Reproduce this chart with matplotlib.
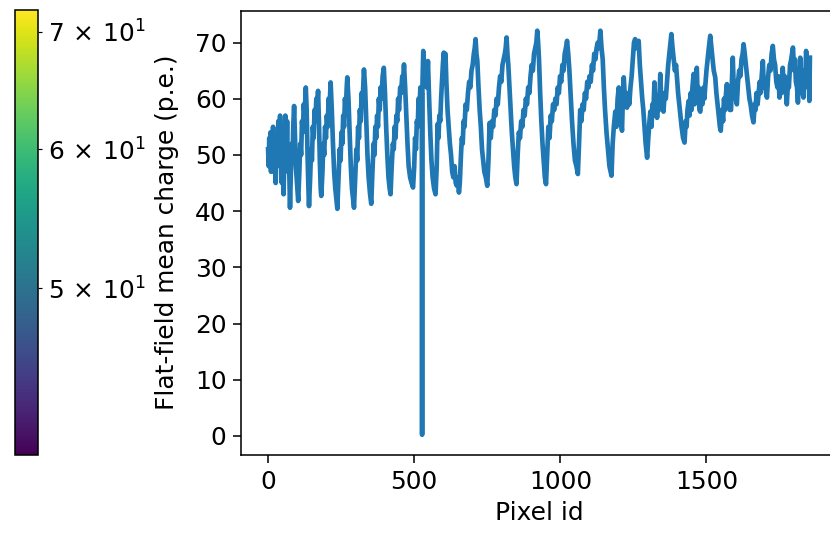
import matplotlib
matplotlib.use("Agg")
import matplotlib.pyplot as plt
from matplotlib.colors import LogNorm
from matplotlib.ticker import FuncFormatter
import matplotlib.cm as cm

# (pixel id, flat-field mean charge) vertices
pixel_id = [
    0, 2, 4, 6, 8, 10, 12, 14, 17, 20, 23, 26, 29, 32, 35, 38, 41, 44, 47, 50,
    53, 56, 59, 62, 65, 68, 71, 75, 78, 81, 84, 86, 89, 92, 95, 99, 103,
    107, 110, 113, 116, 119, 122, 125, 129, 132, 135, 138, 140,
    144, 147, 150, 153, 156, 159, 162, 165, 168, 171, 174, 177, 180, 182,
    186, 189, 192, 195, 198, 201, 204, 207, 210, 214, 218, 222, 226, 230, 234, 237,
    241, 245, 248, 251, 254, 257, 260, 263, 266, 269, 271, 275, 279, 283, 287, 291, 294,
    298, 302, 305, 308, 311, 314, 317, 320, 323, 326, 328, 332, 336, 340, 344, 349, 353,
    357, 361, 364, 367, 370, 373, 376, 379, 382, 385, 388, 392, 396, 400, 404, 408, 412, 416, 419,
    423, 427, 430, 433, 436, 439, 442, 445, 448, 452, 455, 459, 462, 465, 469, 473, 477, 481, 486, 491, 496,
    500, 503, 506, 509, 512, 515, 518, 521, 524, 526, 527, 528, 531, 534, 537, 540, 543, 547, 551, 555, 559, 563, 568, 573,
    577, 580, 583, 586, 589, 592, 595, 598, 601, 604, 607, 610, 614, 618, 622, 626, 630, 634, 638, 642, 646, 650, 653, 656,
    660, 663, 666, 669, 672, 676, 680, 684, 688, 692, 696, 700, 704, 707, 710, 713, 716, 720, 724, 728, 732, 736, 740, 745, 750,
    754, 758, 762, 766, 770, 774, 778, 782, 786, 790, 794, 798, 802, 806, 810, 813, 816, 819, 822, 826, 830, 834, 838, 842, 846, 850,
    854, 858, 862, 866, 870, 874, 878, 882, 886, 890, 894, 898, 902, 906, 910, 914, 918, 921, 924, 927, 931, 935, 939, 943, 947, 951,
    955, 959, 963, 967, 971, 975, 979, 983, 987, 991, 995, 999, 1003, 1007, 1011, 1015, 1019, 1023, 1027, 1031, 1035, 1040, 1045, 1050, 1055, 1060,
    1064, 1068, 1072, 1076, 1080, 1084, 1088, 1092, 1096, 1100, 1104, 1108, 1112, 1116, 1120, 1124, 1128, 1132, 1137, 1141, 1145, 1149, 1153, 1158, 1163, 1168, 1175,
    1179, 1183, 1188, 1192, 1196, 1200, 1204, 1208, 1211, 1214, 1217, 1221, 1225, 1228, 1232, 1236, 1240, 1244, 1248, 1252, 1256, 1260, 1264, 1268, 1272, 1276, 1280, 1284, 1288, 1292, 1297,
    1301, 1305, 1308, 1312, 1315, 1318, 1322, 1326, 1328, 1331, 1334, 1338, 1342, 1346, 1350, 1353, 1357, 1361, 1365, 1369, 1373, 1377, 1380, 1384, 1388, 1392, 1396, 1399, 1403, 1407, 1411, 1415, 1420, 1425,
    1429, 1432, 1435, 1439, 1442, 1446, 1449, 1452, 1456, 1459, 1462, 1467, 1470, 1473, 1476, 1479, 1483, 1486, 1490, 1493, 1496, 1500, 1504, 1508, 1513, 1517, 1521, 1525, 1530, 1534, 1538, 1542, 1546, 1549,
    1553, 1557, 1560, 1564, 1567, 1570, 1574, 1577, 1580, 1584, 1587, 1590, 1594, 1597, 1600, 1604, 1608, 1612, 1616, 1620, 1624, 1627, 1631, 1635, 1639, 1643, 1647, 1651, 1656, 1661,
    1665, 1668, 1671, 1675, 1678, 1682, 1685, 1689, 1693, 1696, 1700, 1704, 1707, 1711, 1715, 1719, 1723, 1727, 1731, 1735, 1739, 1743, 1746, 1750, 1754, 1757, 1761, 1765, 1768, 1772, 1775,
    1779, 1782, 1786, 1790, 1793, 1796, 1800, 1803, 1806, 1810, 1813, 1816, 1818, 1821, 1824, 1827, 1829, 1832, 1835, 1838, 1841, 1844, 1847, 1850, 1852, 1854,
]
charge = [
    51, 48, 53, 49, 54, 47, 52, 49, 55, 47, 52, 45, 53, 48, 56, 51, 57, 50, 45, 53,
    43, 51, 57, 49, 56, 47, 51, 40.6, 47, 52, 50, 55, 58.7, 53, 48, 45, 41.8,
    47, 52, 50, 56, 54, 59, 57, 62, 58, 50, 44, 40.9,
    46, 51, 49, 55, 53, 58, 56, 60, 59, 61.4, 56, 49, 44, 42.7,
    47, 52, 50, 55, 53, 57, 55, 60, 58, 62.9, 58, 52, 47, 44, 42, 40.4,
    46, 51, 49, 54, 52, 57, 55, 60, 58, 62, 63.8, 60, 54, 48, 44, 42, 40.6,
    46, 51, 49, 55, 53, 58, 56, 61, 59, 63, 65.2, 62, 56, 50, 46, 43, 41.3,
    47, 52, 50, 55, 53, 57, 55, 60, 58, 62, 60, 64, 65.5, 61, 55, 50, 46, 44, 43,
    48, 52, 51, 55, 53, 57, 56, 60, 58, 62, 61, 64, 63, 66.1, 62, 57, 52, 48, 46, 45, 44.2,
    48, 53, 51, 56, 55, 60, 58, 62, 60, 61, 0.2, 62, 68.5, 66, 64, 66, 62, 66.7, 60, 54, 49, 46, 44, 43,
    48, 55.5, 53, 57, 56, 60, 63, 66, 68.2, 67, 68, 63, 58, 55, 52, 50, 47, 46, 48, 45, 44.5, 46, 43.3, 45,
    50, 53, 52, 56, 55, 59, 58, 61, 63, 62, 65, 66, 68, 69, 70.6, 68, 66.7, 62, 58, 55, 51, 49, 47, 46, 44.5,
    49, 55.7, 53, 56, 55, 58, 57, 60, 59, 62, 64, 63, 66, 67, 68, 69, 70.9, 68, 66, 62, 58, 54, 51, 48, 46, 44.8,
    50, 54, 53, 56, 55, 58, 57, 60, 59, 62, 61, 64, 66, 65, 68, 69, 70, 72.1, 70, 67, 61, 56, 52, 49, 46, 44.8,
    50, 55, 53, 57, 56, 59, 58, 60, 59, 62, 61, 64, 63, 66, 65, 68, 69, 70.3, 68, 65, 61, 56, 52, 49, 48, 46.6,
    52, 58, 56, 59, 58, 61, 60, 63, 62, 64, 63, 66, 65, 68, 67, 69, 70, 69, 72.1, 69, 67, 62, 58, 54, 51, 48, 46.3,
    52, 55, 57.7, 55, 60, 62, 57, 56, 54.3, 60, 63.8, 60, 61, 58.4, 61, 59, 62, 64, 67, 70, 70.6, 69, 70, 70.3, 66, 63, 60.2, 58, 55, 52, 49.5,
    53, 56, 57.7, 55, 59, 57, 62.9, 58, 60, 56.6, 60, 58, 64.4, 59, 61, 57.7, 61, 60, 63, 66, 68, 70, 71.5, 69, 67, 65, 66, 63.8, 61, 59, 57, 55, 53, 52.2,
    56, 55, 58, 59.6, 57, 61, 58, 62, 64.4, 59, 63, 65.5, 60, 62, 58, 57.7, 61, 59, 62, 60, 62.3, 65, 67, 69, 71.2, 69, 67, 65, 63.8, 61, 59, 57, 55, 54.3,
    58, 56, 60, 58, 61, 62.6, 59, 61, 58, 58, 63, 67.3, 61, 63, 60, 59, 63, 65, 64, 67, 68, 69.7, 68, 66, 64, 62, 60, 59, 57, 55.8,
    59, 58, 61, 59, 60.8, 63, 61, 64, 66.7, 62, 63, 61, 60.2, 64, 66, 65, 68, 69.4, 67, 66, 63, 62, 64, 60.2, 63, 61, 65.5, 62, 64, 61, 59,
    63, 62, 66, 67, 68, 69.1, 65, 67, 63, 62, 59.3, 64, 62, 67.3, 63, 65, 61, 60.2, 65, 63, 68.5, 66, 62, 64, 59.6, 67.3,
]
x_ticks = [0, 500, 1000, 1500]

cbar_vmin = 40.2
cbar_vmax = 72.0
cbar_tick_values = [50, 60, 70]
cbar_tick_labels = [r"$\mathdefault{5\,\times\,10^{1}}$",
                    r"$\mathdefault{6\,\times\,10^{1}}$",
                    r"$\mathdefault{7\,\times\,10^{1}}$"]

DPI = 140
plt.rcParams["font.size"] = 12.8
plt.rcParams["xtick.major.size"] = 4.0
plt.rcParams["ytick.major.size"] = 4.0

fig = plt.figure(figsize=(830 / DPI, 535 / DPI), dpi=DPI)

ax = fig.add_axes([241 / 830, 80 / 535, 596 / 830, 444.5 / 535])
ax.plot(pixel_id, charge, color="#1f77b4", lw=2.4)
ax.set_xticks(x_ticks)
ax.set_xlabel("Pixel id")
ax.set_ylabel("Flat-field mean charge (p.e.)", labelpad=8)

cax = fig.add_axes([15 / 830, 80 / 535, 23 / 830, 445 / 535])
sm = cm.ScalarMappable(norm=LogNorm(vmin=cbar_vmin, vmax=cbar_vmax), cmap="viridis")
cbar = fig.colorbar(sm, cax=cax)

label_map = dict(zip(cbar_tick_values, cbar_tick_labels))


def cbar_fmt(v, pos):
    for tv, lab in label_map.items():
        if abs(v - tv) < 1e-6:
            return lab
    return ""


cax.yaxis.set_minor_formatter(FuncFormatter(cbar_fmt))

fig.savefig("out.png", dpi=DPI)
